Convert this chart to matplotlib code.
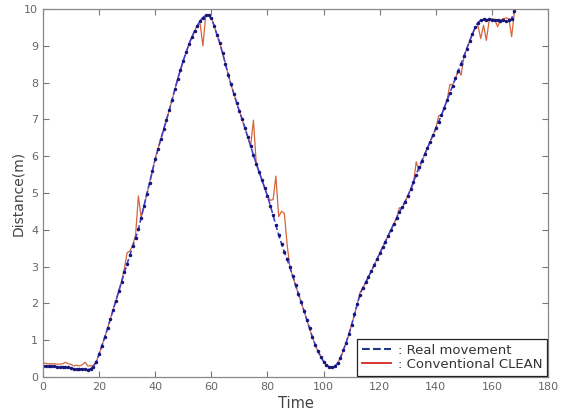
import matplotlib
matplotlib.use("Agg")
import matplotlib.pyplot as plt
from matplotlib.lines import Line2D

# time axis (one sample per time unit)
time = list(range(0, 169))

# real movement (m)
realDist = [
    0.30, 0.30, 0.29, 0.29, 0.29, 0.28, 0.28, 0.28, 0.27, 0.26,   # 0-9
    0.24, 0.22, 0.23, 0.22, 0.21, 0.21, 0.20, 0.22, 0.28, 0.42,   # 10-19
    0.62, 0.85, 1.08, 1.32, 1.57, 1.82, 2.07, 2.33, 2.58, 2.84,   # 20-29
    3.08, 3.32, 3.55, 3.78, 4.02, 4.33, 4.65, 4.97, 5.28, 5.60,   # 30-39
    5.92, 6.20, 6.47, 6.73, 6.98, 7.25, 7.53, 7.82, 8.10, 8.35,   # 40-49
    8.60, 8.82, 9.04, 9.23, 9.40, 9.55, 9.68, 9.77, 9.83, 9.83,   # 50-59
    9.75, 9.55, 9.30, 9.08, 8.80, 8.52, 8.22, 7.95, 7.70, 7.46,   # 60-69
    7.22, 7.00, 6.76, 6.52, 6.28, 6.03, 5.80, 5.58, 5.36, 5.14,   # 70-79
    4.92, 4.66, 4.40, 4.12, 3.86, 3.62, 3.40, 3.20, 2.98, 2.74,   # 80-89
    2.50, 2.26, 2.04, 1.80, 1.56, 1.32, 1.08, 0.88, 0.70, 0.55,   # 90-99
    0.42, 0.33, 0.27, 0.26, 0.29, 0.37, 0.52, 0.72, 0.93, 1.16,   # 100-109
    1.42, 1.70, 1.98, 2.24, 2.43, 2.57, 2.72, 2.88, 3.04, 3.20,   # 110-119
    3.36, 3.52, 3.68, 3.84, 4.00, 4.16, 4.32, 4.48, 4.62, 4.76,   # 120-129
    4.92, 5.10, 5.30, 5.50, 5.70, 5.88, 6.05, 6.22, 6.40, 6.58,   # 130-139
    6.76, 6.94, 7.12, 7.32, 7.52, 7.72, 7.92, 8.12, 8.32, 8.52,   # 140-149
    8.72, 8.92, 9.12, 9.32, 9.50, 9.63, 9.70, 9.72, 9.71, 9.72,   # 150-159
    9.70, 9.69, 9.71, 9.68, 9.70, 9.67, 9.69, 9.74, 9.95,         # 160-168
]

# conventional CLEAN estimate (m)
cleanDist = [
    0.38, 0.37, 0.36, 0.36, 0.36, 0.35, 0.35, 0.36, 0.40, 0.36,
    0.34, 0.30, 0.32, 0.30, 0.33, 0.40, 0.30, 0.30, 0.32, 0.42,
    0.62, 0.85, 1.08, 1.32, 1.57, 1.82, 2.07, 2.33, 2.60, 2.95,
    3.38, 3.42, 3.60, 3.85, 4.92, 4.33, 4.65, 4.97, 5.28, 5.60,
    5.95, 6.20, 6.47, 6.73, 6.98, 7.25, 7.53, 7.82, 8.10, 8.35,
    8.60, 8.82, 9.04, 9.23, 9.40, 9.55, 9.60, 9.00, 9.83, 9.85,
    9.75, 9.55, 9.30, 9.08, 8.80, 8.52, 8.22, 7.95, 7.70, 7.46,
    7.22, 7.00, 6.76, 6.52, 6.28, 6.98, 5.80, 5.58, 5.36, 5.14,
    4.92, 4.80, 4.82, 5.46, 4.36, 4.50, 4.45, 3.60, 2.98, 2.74,
    2.50, 2.26, 2.04, 1.80, 1.56, 1.32, 1.08, 0.88, 0.70, 0.55,
    0.42, 0.33, 0.27, 0.26, 0.29, 0.37, 0.52, 0.72, 0.93, 1.16,
    1.42, 1.70, 1.98, 2.30, 2.43, 2.57, 2.72, 2.88, 3.04, 3.20,
    3.36, 3.52, 3.68, 3.84, 4.00, 4.16, 4.32, 4.60, 4.58, 4.76,
    4.92, 5.10, 5.25, 5.85, 5.60, 5.85, 6.05, 6.22, 6.40, 6.58,
    6.76, 7.10, 7.12, 7.32, 7.52, 7.95, 7.95, 8.10, 8.35, 8.20,
    8.70, 8.92, 9.12, 9.32, 9.47, 9.55, 9.20, 9.56, 9.15, 9.70,
    9.74, 9.72, 9.52, 9.70, 9.74, 9.76, 9.74, 9.25, 9.92,
]

xTicks = list(range(0, 181, 20))
yTicks = list(range(0, 11))

fig = plt.figure(figsize=(5.61, 4.12), dpi=100)
ax = fig.add_axes([0.0766, 0.085, 0.9004, 0.893])

ax.plot(time, cleanDist, color='#d4663a', lw=0.9)
ax.plot(time, realDist, color='#4040d2', lw=1.2, ls='--',
        marker='.', markersize=3, markerfacecolor='#161678', markeredgecolor='#161678')

ax.set_xlim(0, 180)
ax.set_ylim(0, 10)
ax.set_xticks(xTicks)
ax.set_yticks(yTicks)
ax.tick_params(direction='in', top=True, right=True, length=4, width=0.8,
               colors='#777777', labelsize=8, labelcolor='#666666')
for s in ax.spines.values():
    s.set_color('#888888')
    s.set_linewidth(0.9)

ax.set_xlabel('Time', fontsize=10.5, color='#444444', labelpad=3)
ax.set_ylabel('Distance(m)', fontsize=10, color='#444444')
ax.yaxis.set_label_coords(-0.036, 0.5)

handles = [Line2D([], [], color='#1f3585', ls='--', lw=1.5),
           Line2D([], [], color='#d42424', lw=1.3)]
leg = ax.legend(handles, [': Real movement', ': Conventional CLEAN'],
                loc='lower right', bbox_to_anchor=(1.0, 0.0), borderaxespad=0.1,
                fontsize=9.5, frameon=True, fancybox=False, framealpha=1,
                handlelength=2.2, handletextpad=0.5, borderpad=0.35,
                labelspacing=0.1)
leg.get_frame().set_edgecolor('#222222')
leg.get_frame().set_linewidth(0.9)
for t in leg.get_texts():
    t.set_color('#333333')

fig.savefig('out.png', dpi=100)
